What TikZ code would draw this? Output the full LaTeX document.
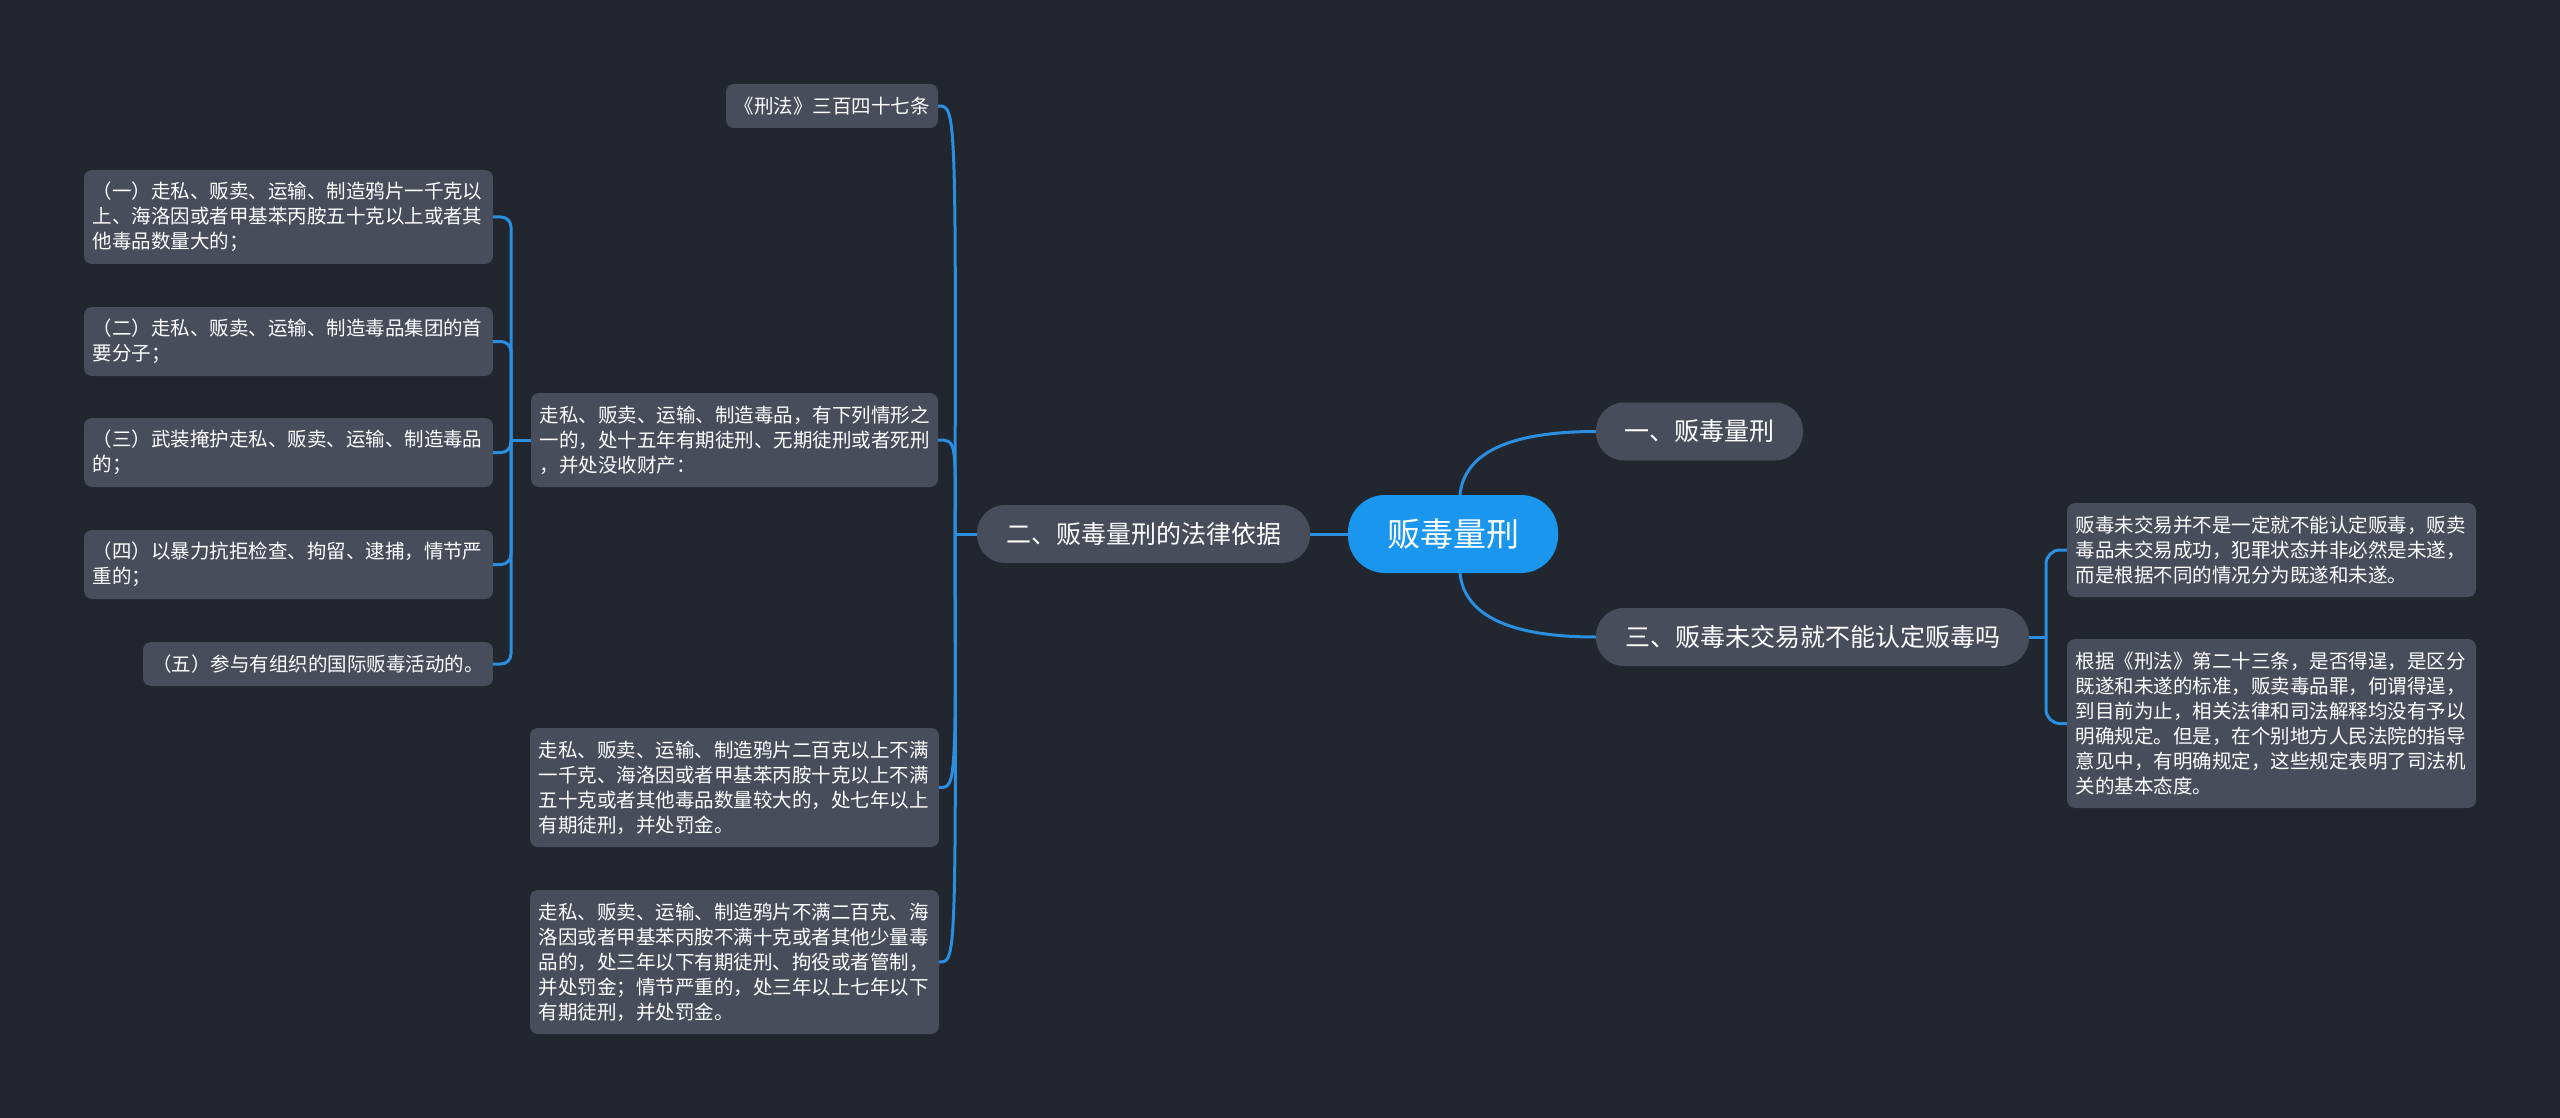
\documentclass[tikz,border=0pt]{standalone}
\usepackage{fontspec}
\setmainfont{Noto Sans CJK SC}
\definecolor{bgc}{HTML}{22262F}
\definecolor{boxc}{HTML}{474D5A}
\definecolor{linc}{HTML}{2A8FE0}
\definecolor{rootc}{HTML}{1A96EF}
\tikzset{
  smallbox/.style={fill=boxc, rounded corners=8pt, text=white, font=\fontsize{19.5}{25}\selectfont, inner ysep=0pt, align=left},
  multibox/.style={smallbox, text width=392pt, inner xsep=8.5pt},
  pillbox/.style={fill=boxc, rounded corners=28pt, text=white, font=\fontsize{25}{30}\selectfont, inner sep=0pt, minimum height=58pt},
  rootbox/.style={fill=rootc, rounded corners=37pt, text=white, font=\fontsize{33}{38}\selectfont, inner sep=0pt, minimum height=78pt, minimum width=210pt},
  conn/.style={draw=linc, line width=3pt}
}
\begin{document}
\begin{tikzpicture}[x=1pt,y=-1pt]
\fill[bgc] (0,0) rectangle (2560,1118);
\useasboundingbox (0,0) rectangle (2560,1118);

% main nodes
\node[rootbox] (root) at (1453,534) {贩毒量刑};
\node[pillbox, minimum width=333pt] (n2) at (1143.5,534) {二、贩毒量刑的法律依据};
\node[pillbox, minimum width=207pt] (n1) at (1699.5,431.5) {一、贩毒量刑};
\node[pillbox, minimum width=433pt] (n3) at (1812.5,637) {三、贩毒未交易就不能认定贩毒吗};

% left subtree
\node[smallbox, minimum width=212pt, minimum height=44pt, inner xsep=0pt] (xf) at (832,106) {《刑法》三百四十七条};
\node[multibox, text width=390pt, inner xsep=8.5pt, minimum height=94pt] (a0) at (734.5,440) {走私、贩卖、运输、制造毒品，有下列情形之\\一的，处十五年有期徒刑、无期徒刑或者死刑\\，并处没收财产：};
\node[multibox, minimum height=119pt] (bA) at (734.5,787.5) {走私、贩卖、运输、制造鸦片二百克以上不满\\一千克、海洛因或者甲基苯丙胺十克以上不满\\五十克或者其他毒品数量较大的，处七年以上\\有期徒刑，并处罚金。};
\node[multibox, minimum height=144pt] (bB) at (734.5,962) {走私、贩卖、运输、制造鸦片不满二百克、海\\洛因或者甲基苯丙胺不满十克或者其他少量毒\\品的，处三年以下有期徒刑、拘役或者管制，\\并处罚金；情节严重的，处三年以上七年以下\\有期徒刑，并处罚金。};

\node[multibox, minimum height=94pt] (c1) at (288.5,217) {（一）走私、贩卖、运输、制造鸦片一千克以\\上、海洛因或者甲基苯丙胺五十克以上或者其\\他毒品数量大的；};
\node[multibox, minimum height=69pt] (c2) at (288.5,341.5) {（二）走私、贩卖、运输、制造毒品集团的首\\要分子；};
\node[multibox, minimum height=69pt] (c3) at (288.5,452.5) {（三）武装掩护走私、贩卖、运输、制造毒品\\的；};
\node[multibox, minimum height=69pt] (c4) at (288.5,564.5) {（四）以暴力抗拒检查、拘留、逮捕，情节严\\重的；};
\node[smallbox, minimum width=350pt, minimum height=44pt, inner xsep=0pt] (c5) at (318,664) {（五）参与有组织的国际贩毒活动的。};

% right subtree
\node[multibox, minimum height=94pt] (r1) at (2271.5,550) {贩毒未交易并不是一定就不能认定贩毒，贩卖\\毒品未交易成功，犯罪状态并非必然是未遂，\\而是根据不同的情况分为既遂和未遂。};
\node[multibox, minimum height=169pt] (r2) at (2271.5,723.5) {根据《刑法》第二十三条，是否得逞，是区分\\既遂和未遂的标准，贩卖毒品罪，何谓得逞，\\到目前为止，相关法律和司法解释均没有予以\\明确规定。但是，在个别地方人民法院的指导\\意见中，有明确规定，这些规定表明了司法机\\关的基本态度。};

% connectors from root
\draw[conn] (root.west) -- (n2.east);
\draw[conn] ([xshift=7pt]root.north) .. controls (1464,455) and (1505,431.5) .. (n1.west);
\draw[conn] ([xshift=7pt]root.south) .. controls (1464,613) and (1505,637) .. (n3.west);

% left main junction
\coordinate (J) at (955,534);
\draw[conn] (n2.west) -- (J);
\foreach \c in {xf,a0,bA,bB}{
  \draw[conn] (J) .. controls ([xshift=1pt]J |- \c.east) and ([xshift=1pt]J |- \c.east) .. (\c.east);
}

% far-left bracket
\coordinate (K) at (511,440);
\draw[conn] (a0.west) -- (K);
\foreach \c in {c1,c2,c3,c4,c5}{
  \draw[conn, rounded corners=10pt] (K) -- (K |- \c.east) -- (\c.east);
}

% right bracket
\coordinate (L) at (2046,637);
\draw[conn] (n3.east) -- (L);
\draw[conn, rounded corners=14pt] (L) -- (L |- r1.west) -- (r1.west);
\draw[conn, rounded corners=14pt] (L) -- (L |- r2.west) -- (r2.west);
\end{tikzpicture}
\end{document}
